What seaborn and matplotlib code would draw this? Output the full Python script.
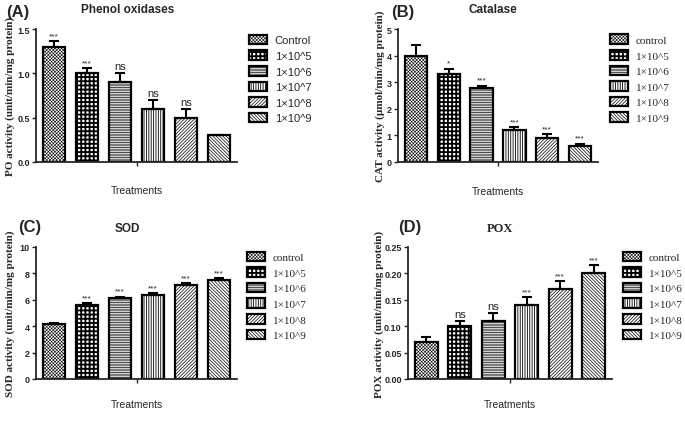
import matplotlib
matplotlib.use("Agg")
import matplotlib.pyplot as plt
import seaborn as sns
from matplotlib.ticker import FormatStrFormatter

# data
groups_a = ["Control", "1×10^5", "1×10^6", "1×10^7", "1×10^8", "1×10^9"]
groups = ["control", "1×10^5", "1×10^6", "1×10^7", "1×10^8", "1×10^9"]

po_mean = [1.30, 1.00, 0.90, 0.60, 0.50, 0.30]
po_err = [0.06, 0.06, 0.10, 0.10, 0.10, 0.0]
po_sig = ["***", "***", "ns", "ns", "ns", ""]

cat_mean = [4.0, 3.3, 2.8, 1.2, 0.9, 0.6]
cat_err = [0.4, 0.2, 0.07, 0.1, 0.15, 0.08]
cat_sig = ["", "*", "***", "***", "***", "***"]

sod_mean = [4.2, 5.6, 6.1, 6.4, 7.1, 7.5]
sod_err = [0.08, 0.15, 0.15, 0.1, 0.15, 0.12]
sod_sig = ["", "***", "***", "***", "***", "***"]

pox_mean = [0.07, 0.10, 0.11, 0.14, 0.17, 0.20]
pox_err = [0.01, 0.01, 0.015, 0.015, 0.015, 0.015]
pox_sig = ["", "ns", "ns", "***", "***", "***"]

# hatch pattern and hatch line width for each group
hatches = ["x" * 10, "++++", "-" * 10, "|" * 7, "/" * 10, "\\" * 10]
hatch_lw = [0.4, 1.3, 0.5, 0.6, 0.5, 0.5]

SANS = "Liberation Sans"
SERIF = "Liberation Serif"

sns.set_style("ticks")
plt.rcParams["font.family"] = [SANS, "DejaVu Sans"]

W, H = 685, 427
fig = plt.figure(figsize=(6.85, 4.27), dpi=100)


def box(x0, x1, ytop, ybot):
    return [x0 / W, 1 - ybot / H, (x1 - x0) / W, (ybot - ytop) / H]


def set_hlw(p, lw):
    if hasattr(p, "set_hatch_linewidth"):
        p.set_hatch_linewidth(lw)
    else:
        p._hatch_linewidth = lw


def panel(rect, labels, mean, err, sig, ymax, ystep, fmt, ylabel, leg_font,
          leg_pos, ylab_x, xlab_y):
    ax = fig.add_axes(rect)
    sns.barplot(x=labels, y=mean, color="white", saturation=1, edgecolor="black",
                linewidth=1.6, width=0.68, errorbar=None, ax=ax)
    for p, h, lw in zip(ax.patches, hatches, hatch_lw):
        p.set_hatch(h)
        set_hlw(p, lw)
    low = [0] * len(err)
    ax.errorbar(range(len(mean)), mean, yerr=[low, err], fmt="none",
                ecolor="black", elinewidth=1.5, capsize=3.5, capthick=1.5)
    for i, s in enumerate(sig):
        if not s:
            continue
        fs = 8 if s == "ns" else 6
        ax.annotate(s, (i, mean[i] + err[i]), xytext=(0, 1.5),
                    textcoords="offset points", ha="center", va="bottom",
                    fontsize=fs)
    ax.set_xlim(-0.55, 5.55)
    ax.set_ylim(0, ymax)
    ax.set_yticks([ystep * k for k in range(int(round(ymax / ystep)) + 1)])
    ax.yaxis.set_major_formatter(FormatStrFormatter(fmt))
    ax.set_xticks([2.5])
    ax.set_xticklabels([""])
    sns.despine(ax=ax)
    for s in ["left", "bottom"]:
        ax.spines[s].set_linewidth(1.3)
    ax.tick_params(axis="both", width=1, length=3, labelsize=6.5, pad=1.5)
    for t in ax.get_yticklabels():
        t.set_fontweight("bold")
    ax.set_ylabel(ylabel, family=SERIF, fontweight="bold", fontsize=8)
    ax.yaxis.set_label_coords(ylab_x, 0.5)
    ax.set_xlabel("Treatments", fontsize=7.5)
    ax.xaxis.set_label_coords(0.5, xlab_y)
    leg = ax.legend(ax.patches, labels, loc="upper left", bbox_to_anchor=leg_pos,
                    frameon=False, borderpad=0, borderaxespad=0, handlelength=1.6,
                    handleheight=0.95, handletextpad=0.7, labelspacing=0.45,
                    prop={"family": leg_font, "size": 8})
    for p, lw in zip(leg.get_patches(), hatch_lw):
        set_hlw(p, lw)
    return ax


panel(box(36, 237, 30, 163), groups_a, po_mean, po_err, po_sig, 1.5, 0.5, "%.1f",
      "PO activity (unit/min/mg protein)", SANS, (1.06, 0.957), -0.105, -0.17)
panel(box(398, 598, 30, 163), groups, cat_mean, cat_err, cat_sig, 5, 1, "%d",
      "CAT activity (µmol/min/mg protein)", SERIF, (1.06, 0.96), -0.065, -0.18)
panel(box(36, 237, 248, 380), groups, sod_mean, sod_err, sod_sig, 10, 2, "%d",
      "SOD activity (unit/min/mg protein)", SERIF, (1.05, 0.965), -0.105, -0.15)
panel(box(408, 612, 248, 380), groups, pox_mean, pox_err, pox_sig, 0.25, 0.05, "%.2f",
      "POX activity (unit/min/mg protein)", SERIF, (1.054, 0.965), -0.12, -0.15)


def ftext(x, y, s, **kw):
    fig.text(x / W, 1 - y / H, s, va="center", **kw)


ftext(6, 13, "(A)", fontsize=12, fontweight="bold")
ftext(128, 10, "Phenol oxidases", fontsize=8.5, fontweight="bold", ha="center")
ftext(391, 13, "(B)", fontsize=12, fontweight="bold")
ftext(493, 10, "Catalase", fontsize=8.5, fontweight="bold", ha="center")
ftext(18, 228, "(C)", fontsize=12, fontweight="bold")
ftext(127, 229, "SOD", fontsize=8.5, fontweight="bold", ha="center")
ftext(398, 228, "(D)", fontsize=12, fontweight="bold")
ftext(500, 229, "POX", fontsize=9, fontweight="bold", ha="center", family=SERIF)

fig.savefig("out.png", dpi=100)
